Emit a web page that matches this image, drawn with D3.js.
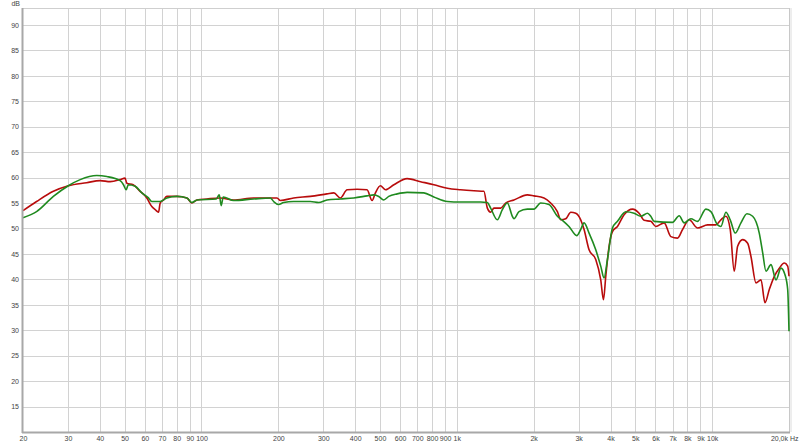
<!DOCTYPE html>
<html><head><meta charset="utf-8">
<script src="https://cdn.jsdelivr.net/npm/d3@7"></script>
<style>body{margin:0;background:#fff}svg{display:block}text{font-family:"Liberation Sans",Arial,sans-serif}</style>
</head><body><svg id="c" width="800" height="443"></svg>
<script>
const xTicks=[20,30,40,50,60,70,80,90,100,200,300,400,500,600,700,800,900,1000,2000,3000,4000,5000,6000,7000,8000,9000,10000,20000];
const xTickLabels=["20","30","40","50","60","70","80","90","100","200","300","400","500","600","700","800","900","1k","2k","3k","4k","5k","6k","7k","8k","9k","10k","20,0k Hz"];
const yTicks=[15,20,25,30,35,40,45,50,55,60,65,70,75,80,85,90];

const redFreq=[20,22.6,26.3,30.1,35.5,40.1,43.9,48.0,50.2,51.0,54.0,57.5,61.1,63.9,65.9,67.9,68.9,71.0,73.2,80.1,87.7,91.7,96.0,105,118.5,133.6,160,197.7,203.6,229.6,267,310,330,350,372,407,445,466,480,502,526,567,639,721,813,918,1034,1167,1277,1317,1357,1398,1485,1553,1674,1889,2006,2195,2332,2477,2553,2670,2795,2923,3057,3151,3296,3501,3662,3753,3832,3948,4070,4258,4520,4877,5176,5415,5751,6019,6486,6891,7321,7660,8128,8770,9598,10344,10822,11322,11772,12205,12584,13166,13775,14193,14849,15535,16107,16742,17519,18328,19175,19766,20000];
const redDb=[53.5,55.3,57.3,58.4,59.0,59.4,59.2,59.6,59.9,58.9,58.6,57.3,56.0,54.3,53.7,53.2,55.0,55.6,56.3,56.3,56.0,55.0,55.6,55.8,56.0,55.6,56.0,56.0,55.5,56.0,56.3,56.8,57.0,56.0,57.6,57.7,57.6,55.5,57.0,58.4,57.6,58.6,59.8,59.2,58.6,57.9,57.6,57.4,57.3,54.0,53.2,54.0,54.0,55.0,55.6,56.6,56.4,56.0,55.0,53.3,51.7,51.9,53.2,53.0,51.7,49.8,45.8,43.9,39.9,36.0,40.6,46.5,49.4,50.4,52.7,53.8,53.0,51.6,51.4,50.4,51.1,48.4,48.1,49.8,51.7,50.1,50.7,50.7,51.7,52.4,49.8,41.6,46.5,47.8,47.1,44.5,39.3,39.9,35.4,38.0,40.6,42.2,43.2,42.6,40.6];

const greenFreq=[20,22.6,26.3,30.1,33.5,38.9,42.6,48.0,49.5,50.7,51.7,55.0,58.4,62.0,63.9,68.9,73.2,80.1,87.7,91.7,96.0,114.3,117.4,119.5,121.7,133.6,160,186,191.7,200.5,209.8,229.6,267,287.8,310,350,394.8,445,472.8,494.8,517.4,541.4,584.2,639,742.8,813,918,1034,1239,1317,1357,1441,1508,1577,1650,1674,1752,1889,2006,2130,2296,2477,2592,2750,2950,3057,3151,3296,3501,3662,3773,3890,4070,4258,4592,4948,5258,5584,5751,5928,6996,7428,7773,8256,8770,9452,9890,10506,10822,11322,11772,12316,12966,13690,14412,15296,15777,16252,17002,17789,18608,19291,19766,20000];
const greenDb=[52.1,53.3,56.3,58.4,59.6,60.4,60.2,59.4,58.6,57.6,58.6,58.3,57.0,56.0,55.3,55.3,56.0,56.3,56.0,55.1,55.6,55.8,56.6,54.5,56.2,55.5,55.8,56.0,55.3,54.7,55.1,55.3,55.3,55.1,55.6,55.8,56.0,56.4,56.6,56.3,55.6,56.3,56.8,57.1,57.0,56.2,55.3,55.2,55.2,55.1,54.0,51.7,53.7,55.0,52.4,51.9,53.3,53.8,53.8,55.0,54.7,52.4,51.6,50.4,48.6,49.8,51.1,49.1,45.8,42.6,40.3,43.9,50.1,51.4,53.3,53.0,52.4,53.0,52.4,51.4,51.2,52.5,51.1,51.9,51.4,53.8,53.3,50.7,50.4,53.2,51.7,49.1,51.1,52.9,52.4,49.1,45.2,41.6,42.9,39.9,42.2,40.9,38.0,29.8];

const L=23,R=789,T=8,B=432;
const svg=d3.select("#c");
const x=d3.scaleLog().domain([20,20000]).range([L,R]);
const y=d3.scaleLinear().domain([10,93.33]).range([B,T]);

svg.append("rect").attr("width",800).attr("height",443).attr("fill","#fff");

// grid
const g=svg.append("g");
g.selectAll("line.v").data(xTicks.slice(1,-1)).enter().append("line")
 .attr("x1",d=>Math.round(x(d))+0.5).attr("x2",d=>Math.round(x(d))+0.5).attr("y1",T).attr("y2",B)
 .attr("stroke","#d2d2d2").attr("stroke-width",1);
g.selectAll("line.h").data(yTicks).enter().append("line")
 .attr("y1",d=>Math.round(y(d))+0.5).attr("y2",d=>Math.round(y(d))+0.5).attr("x1",L).attr("x2",R)
 .attr("stroke","#d2d2d2").attr("stroke-width",1);

// frame
svg.append("line").attr("x1",L).attr("x2",R+1).attr("y1",T+0.5).attr("y2",T+0.5).attr("stroke","#cfcfcf");
svg.append("line").attr("x1",R+0.5).attr("x2",R+0.5).attr("y1",T).attr("y2",B).attr("stroke","#c8c8c8").attr("stroke-width",1);
svg.append("line").attr("x1",R+2).attr("x2",R+2).attr("y1",T).attr("y2",B).attr("stroke","#dcdcdc").attr("stroke-width",1);

// curves
const line=d3.line().x(d=>x(d[0])).y(d=>y(d[1])).curve(d3.curveMonotoneX);
const redData=redFreq.map((f,i)=>[f,redDb[i]]);
const greenData=greenFreq.map((f,i)=>[f,greenDb[i]]);
svg.append("path").datum(redData).attr("d",line).attr("fill","none").attr("stroke","#b80c0c").attr("stroke-width",1.6).attr("stroke-linejoin","round");
svg.append("path").datum(greenData).attr("d",line).attr("fill","none").attr("stroke","#1f8a1f").attr("stroke-width",1.6).attr("stroke-linejoin","round");

// axes lines (left & bottom)
svg.append("line").attr("x1",L-0.5).attr("x2",L-0.5).attr("y1",T).attr("y2",B+1).attr("stroke","#a8a8a8").attr("stroke-width",2);
svg.append("line").attr("x1",L-1).attr("x2",R+1).attr("y1",B+0.5).attr("y2",B+0.5).attr("stroke","#a8a8a8").attr("stroke-width",2);

// y axis labels
const ya=svg.append("g").attr("transform",`translate(${L-4},0)`)
 .call(d3.axisLeft(y).tickValues(yTicks).tickSize(0).tickPadding(0));
ya.select(".domain").remove();
ya.selectAll("text").attr("font-size",7).attr("fill","#444").attr("font-family","Liberation Sans, Arial, sans-serif");
svg.append("text").attr("x",L-3).attr("y",6).attr("text-anchor","end").attr("font-size",7).attr("fill","#444").text("dB");

// x axis labels
const xa=svg.append("g").attr("transform",`translate(0,${B+2})`)
 .call(d3.axisBottom(x).tickValues(xTicks).tickSize(0).tickPadding(2).tickFormat((d,i)=>xTickLabels[i]));
xa.select(".domain").remove();
xa.selectAll("text").attr("font-size",7).attr("fill","#444").attr("font-family","Liberation Sans, Arial, sans-serif");
xa.selectAll(".tick").filter(d=>d===20000).select("text").attr("text-anchor","end").attr("dx",9);
</script></body></html>
